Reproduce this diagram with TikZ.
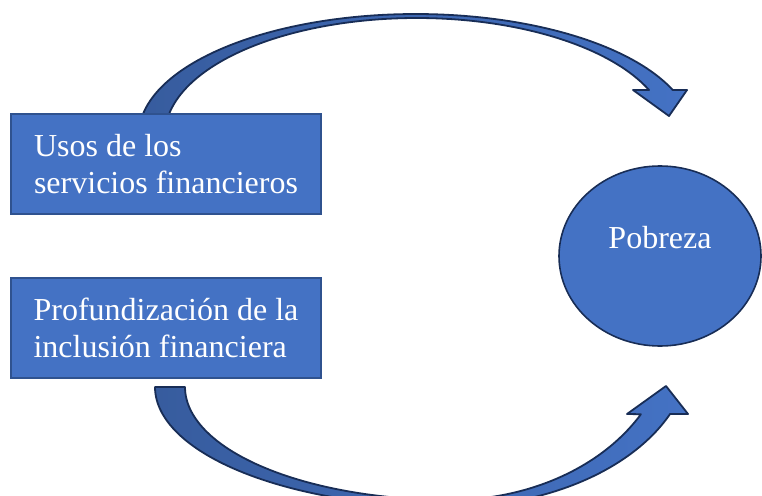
\documentclass[tikz,border=0pt]{standalone}
\usepackage{fontspec}
\setmainfont{Liberation Serif}
\usetikzlibrary{shapes.geometric}
\definecolor{boxblue}{RGB}{68,114,196}
\definecolor{boxline}{RGB}{47,82,143}
\definecolor{arrline}{RGB}{24,45,86}
\definecolor{arrdark}{RGB}{55,92,158}
\tikzset{
  boxnode/.style={draw=boxline, line width=1.6pt, fill=boxblue, minimum width=310pt, minimum height=100pt,
    align=left, text=white, inner sep=0pt, font=\fontsize{32}{37}\selectfont},
  ellnode/.style={ellipse, draw=arrline, line width=1.6pt, fill=boxblue, minimum width=202pt, minimum height=180pt,
    inner sep=0pt, text=white, font=\fontsize{32}{37}\selectfont, text depth=38pt},
  arrowshape/.style={draw=arrline, line width=1.8pt, line join=round, left color=arrdark, right color=boxblue}
}
\begin{document}
\begin{tikzpicture}[x=1pt,y=-1pt]
\useasboundingbox (0,0) rectangle (762,495);
\begin{scope}
\clip (0,0) rectangle (762,495);
% top curved arrow
\path[arrowshape]
  plot[domain=170:21.8, samples=90, variable=\t] ({415.7+276.9*cos(\t)},{135-121*sin(\t)})
  -- (687,90) -- (669,116) -- (633,90)
  -- plot[domain=22.6:169.66, samples=90, variable=\t] ({416.7+251.7*cos(\t)},{135-117*sin(\t)})
  -- cycle;
% bottom curved arrow
\path[arrowshape]
  (155,387)
  -- plot[domain=180:270, samples=60, variable=\t] ({450+265*cos(\t)},{387-113*sin(\t)})
  -- plot[domain=270:330.3, samples=50, variable=\t] ({450+219.8*cos(\t)},{330-170*sin(\t)})
  -- (627,414) -- (666,386) -- (688,414) -- (670,414)
  -- plot[domain=335.4:270, samples=50, variable=\t] ({450+241*cos(\t)},{350-157*sin(\t)})
  -- plot[domain=270:180, samples=60, variable=\t] ({450+295*cos(\t)},{387-120*sin(\t)})
  -- cycle;
\end{scope}
\node[boxnode] (usos) at (166,164) {Usos de los\\servicios financieros};
\node[boxnode] (prof) at (166,328) {Profundización de la\\inclusión financiera};
\node[ellnode] (pobreza) at (660,256) {Pobreza};
\end{tikzpicture}
\end{document}
